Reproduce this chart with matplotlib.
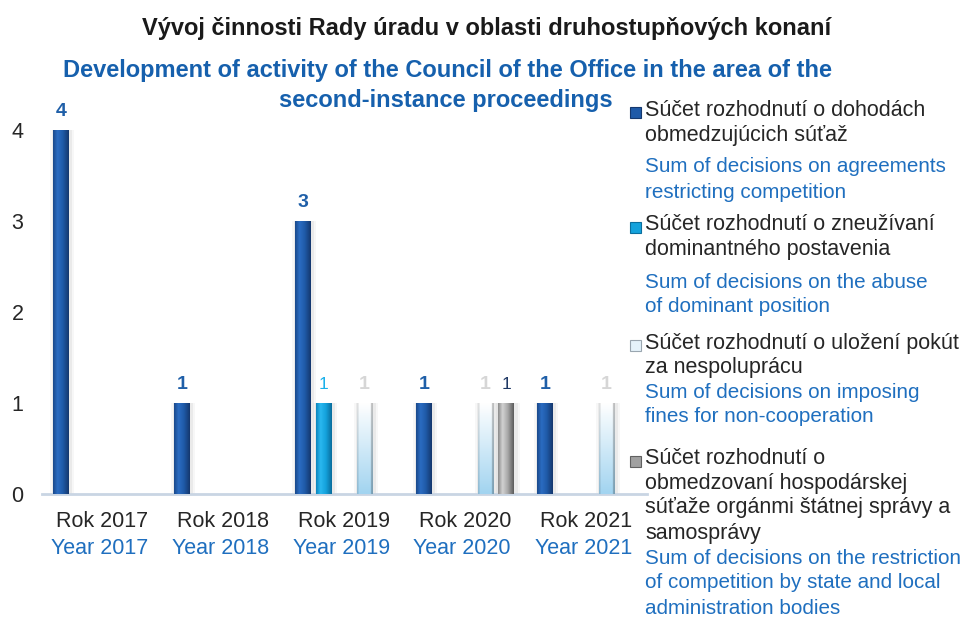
import numpy as np
import matplotlib
matplotlib.use("Agg")
import matplotlib.pyplot as plt
from matplotlib.colors import LinearSegmentedColormap, to_rgb
from matplotlib.patches import Rectangle

OUTPUT_FILE = "out.png"

TITLE = "Vývoj činnosti Rady úradu v oblasti druhostupňových konaní"
SUBTITLE_LINES = ["Development of activity of the Council of the Office in the area of the",
                  "second-instance proceedings"]

YEARS_SK = ["Rok 2017", "Rok 2018", "Rok 2019", "Rok 2020", "Rok 2021"]
YEARS_EN = ["Year 2017", "Year 2018", "Year 2019", "Year 2020", "Year 2021"]

AGREEMENTS = [4, 1, 3, 1, 1]
ABUSE = [0, 0, 1, 0, 0]
NON_COOPERATION = [0, 0, 1, 1, 1]
STATE_BODIES = [0, 0, 0, 1, 0]

LEGEND_SK = [
    ["Súčet rozhodnutí o dohodách", "obmedzujúcich súťaž"],
    ["Súčet rozhodnutí o zneužívaní", "dominantného postavenia"],
    ["Súčet rozhodnutí o uložení pokút", "za nespoluprácu"],
    ["Súčet rozhodnutí o", "obmedzovaní hospodárskej",
     "súťaže orgánmi štátnej správy a", "samosprávy"],
]
LEGEND_EN = [
    ["Sum of decisions on agreements", "restricting competition"],
    ["Sum of decisions on the abuse", "of dominant position"],
    ["Sum of decisions on imposing", "fines for non-cooperation"],
    ["Sum of decisions on the restriction", "of competition by state and local",
     "administration bodies"],
]

BLUE_TXT = "#1f6fbf"
DARK_TXT = "#262626"
NARROW = ["Liberation Sans Narrow", "Liberation Sans", "DejaVu Sans"]
plt.rcParams["font.family"] = ["Liberation Sans", "DejaVu Sans"]

W, H = 967, 619
fig = plt.figure(figsize=(W / 100, H / 100), dpi=100, facecolor="white")

def px(x, y):
    return x / W, 1 - y / H

ax = fig.add_axes([41.5 / W, 1 - 494 / H, 605 / W, (494 - 84.5) / H])

# series: (values, slot, colour stops, label style)
series = [
    (AGREEMENTS, 0, ["#1a4a8c", "#2b6cc2", "#1f5aa8", "#15386e"],
     dict(color="#1f5fa8", fontweight="bold", fontsize=14)),
    (ABUSE, 1, ["#0b86be", "#2ab8f0", "#14a2dc", "#0a6e9e"],
     dict(color="#1ab0ea", fontweight="normal", fontsize=12.5)),
    (NON_COOPERATION, 3, None,
     dict(color="#d6d6d6", fontweight="bold", fontsize=14)),
    (STATE_BODIES, 4, ["#8c8c8c", "#d2d2d2", "#a8a8a8", "#5c5c5c"],
     dict(color="#1f3864", fontweight="normal", fontsize=12.5)),
]

slot_w = 20.6 / 121
bar_w = 15.5 / 121
x = np.arange(len(YEARS_SK))

def gradient_image(stops, kind):
    nx, ny = 40, 60
    t = np.linspace(0, 1, nx)
    if kind == "light":
        top = np.array(to_rgb("#ffffff"))
        bottom = np.array(to_rgb("#a2d4f0"))
        v = np.linspace(0, 1, ny)[:, None, None]
        img = bottom * (1 - v) + top * v
        img = np.repeat(img, nx, axis=1)
        edge = np.ones(nx)
        edge[t < 0.1] = 0.88
        edge[t > 0.88] = 0.75
        img = img * edge[None, :, None]
        return img
    cmap = LinearSegmentedColormap.from_list(
        "g", list(zip([0, 0.28, 0.62, 1.0], stops)))
    row = cmap(t)[:, :3]
    return np.repeat(row[None, :, :], ny, axis=0)

for values, slot, stops, label_style in series:
    pos = x + (slot - 2) * slot_w
    # soft shadow
    for k, a in [(0.07, 0.05), (0.04, 0.09)]:
        ax.bar(pos + 0.012, values, width=bar_w + k, color="#707070",
               alpha=a, zorder=2, linewidth=0)
    bars = ax.bar(pos, values, width=bar_w, color="#cccccc", zorder=3,
                  linewidth=0)
    for patch, v in zip(bars, values):
        if v <= 0:
            continue
        img = gradient_image(stops, "light" if stops is None else "solid")
        x0 = patch.get_x()
        im = ax.imshow(img, extent=(x0, x0 + patch.get_width(), 0, v),
                       origin="lower", aspect="auto", zorder=4,
                       interpolation="bilinear")
        im.set_clip_path(patch)
        ax.annotate(str(v), (patch.get_x() + patch.get_width() / 2, v),
                    xytext=(0, 13), textcoords="offset points",
                    ha="center", va="center", **label_style)

ax.set_xlim(-0.5, 4.5)
ax.set_ylim(0, 4.5)
ax.set_aspect("auto")

ax.set_yticks([0, 1, 2, 3, 4])
ax.tick_params(axis="y", length=0, pad=13, labelsize=15.5, labelcolor=DARK_TXT)
ax.set_xticks([])
for side in ["left", "top", "right"]:
    ax.spines[side].set_visible(False)
ax.spines["bottom"].set_color("#c9d5e3")
ax.spines["bottom"].set_linewidth(2)

for i in x:
    ax.annotate(YEARS_SK[i], (i, 0), xycoords=("data", "axes fraction"),
                xytext=(0, -19.5), textcoords="offset points",
                ha="center", va="center", fontsize=15.5, color=DARK_TXT)
    ax.annotate(YEARS_EN[i], (i, 0), xycoords=("data", "axes fraction"),
                xytext=(-2, -39.5), textcoords="offset points",
                ha="center", va="center", fontsize=15.5, color=BLUE_TXT)

fig.text(*px(487, 28), TITLE, ha="center", va="center", fontsize=17,
         fontweight="bold", color="#1a1a1a", family=NARROW)
for line, yy, cx in zip(SUBTITLE_LINES, [70, 100], [447.5, 445.5]):
    fig.text(*px(cx, yy), line, ha="center", va="center", fontsize=17,
             fontweight="bold", color="#1660ad", family=NARROW)

# legend
sk_rows = [[110, 135], [225, 250], [343, 367], [459, 484, 508, 533]]
en_rows = [[167, 192], [282, 306], [393, 417], [558, 583, 608]]
marker_colors = [("#1f5aa8", "#15386e"), ("#14a2dc", "#0a6e9e"),
                 ("#e6f3fb", "#9aa6b0"), ("#a0a0a0", "#606060")]
for k in range(4):
    fx, fy = px(630, sk_rows[k][0] + 8)
    fig.patches.append(Rectangle((fx, fy), 11 / W, 11 / H,
                                 facecolor=marker_colors[k][0],
                                 edgecolor=marker_colors[k][1], linewidth=0.8,
                                 transform=fig.transFigure, figure=fig))
    for line, yy in zip(LEGEND_SK[k], sk_rows[k]):
        fig.text(*px(645, yy), line, ha="left", va="center", fontsize=15.5,
                 color=DARK_TXT)
    for line, yy in zip(LEGEND_EN[k], en_rows[k]):
        fig.text(*px(645, yy), line, ha="left", va="center", fontsize=14.9,
                 color=BLUE_TXT)

plt.savefig(OUTPUT_FILE, dpi=100, facecolor="white")
